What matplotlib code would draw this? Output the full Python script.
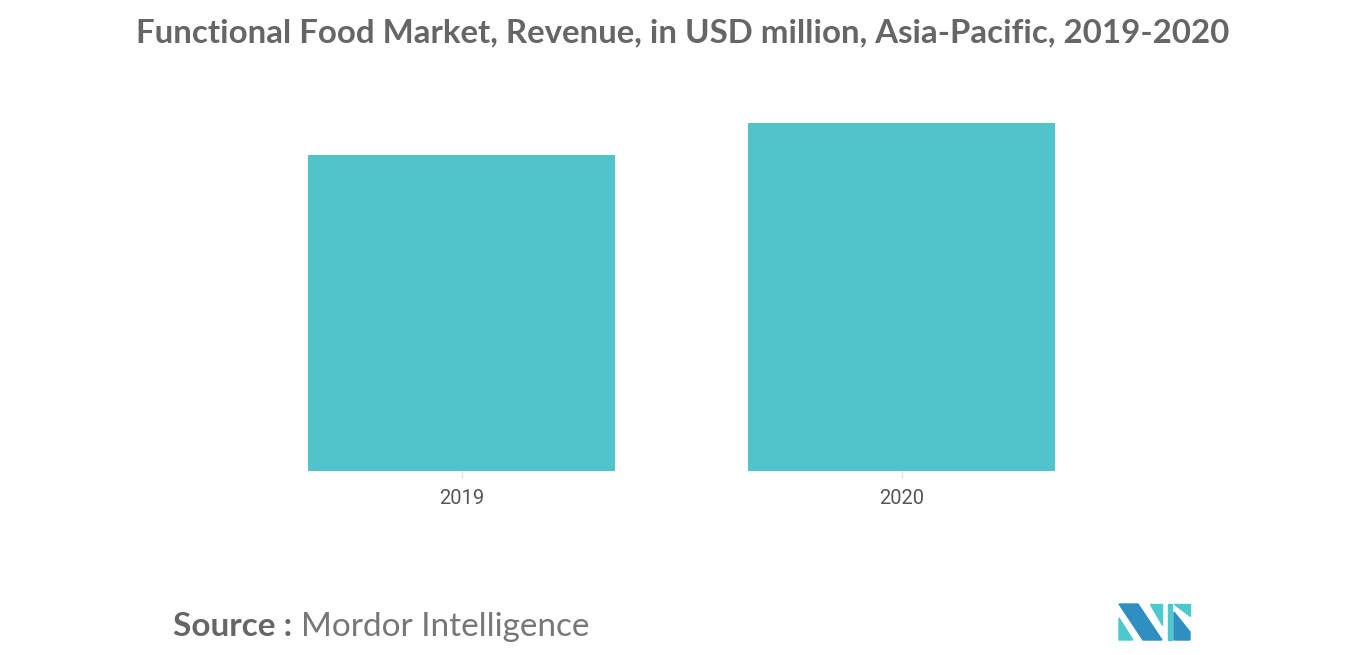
import matplotlib
matplotlib.use("Agg")
import matplotlib.pyplot as plt
from matplotlib.patches import Polygon

categories = ["2019", "2020"]
values = [100.0, 110.1]

W, H = 1366, 655
fig = plt.figure(figsize=(W/100, H/100), dpi=100)
ax = fig.add_axes([241.5/W, 1-471/H, 880/W, (471-90)/H])
ax.bar(range(len(categories)), values, width=0.698, color="#51c3cb")
ax.set_xlim(-0.5, 1.5)
top = values[1] * (471-90) / (471-123)
ax.set_ylim(0, top)
ax.set_xticks(range(len(categories)))
ax.set_xticklabels(categories, fontsize=14.5, color="#555555", fontfamily="Roboto")
ax.tick_params(axis="x", length=5, color="#dddddd", pad=8)
ax.set_yticks([])
for s in ax.spines.values():
    s.set_visible(False)

fig.text(0.5, 1-33/H, "Functional Food Market, Revenue, in USD million, Asia-Pacific, 2019-2020",
         ha="center", va="center", fontsize=23.8, color="#666666", fontfamily="Lato",
         fontweight="bold")
fig.text(173/W, 1-627/H, "Source :", ha="left", va="center", fontsize=24,
         color="#666666", fontfamily="Lato", fontweight="bold")
fig.text(301/W, 1-627/H, "Mordor Intelligence", ha="left", va="center", fontsize=24,
         color="#777777", fontfamily="Lato")

def P(pts, c):
    fig.patches.append(Polygon([(x/W, 1-y/H) for x, y in pts], closed=True,
                               transform=fig.transFigure, color=c))
dark, light = "#2e8fc0", "#4cc8cf"
P([(1119,604),(1138,604),(1162,640),(1143,640)], dark)
P([(1119,618),(1133,640),(1119,640)], light)
P([(1150,604),(1162,604),(1162,625)], light)
P([(1168,604),(1172,604),(1172,640),(1168,640)], light)
P([(1174,604),(1190,604),(1190,616)], light)
P([(1174,612),(1190,632),(1190,640),(1174,640)], dark)
fig.savefig("out.png", dpi=100, facecolor="white")
